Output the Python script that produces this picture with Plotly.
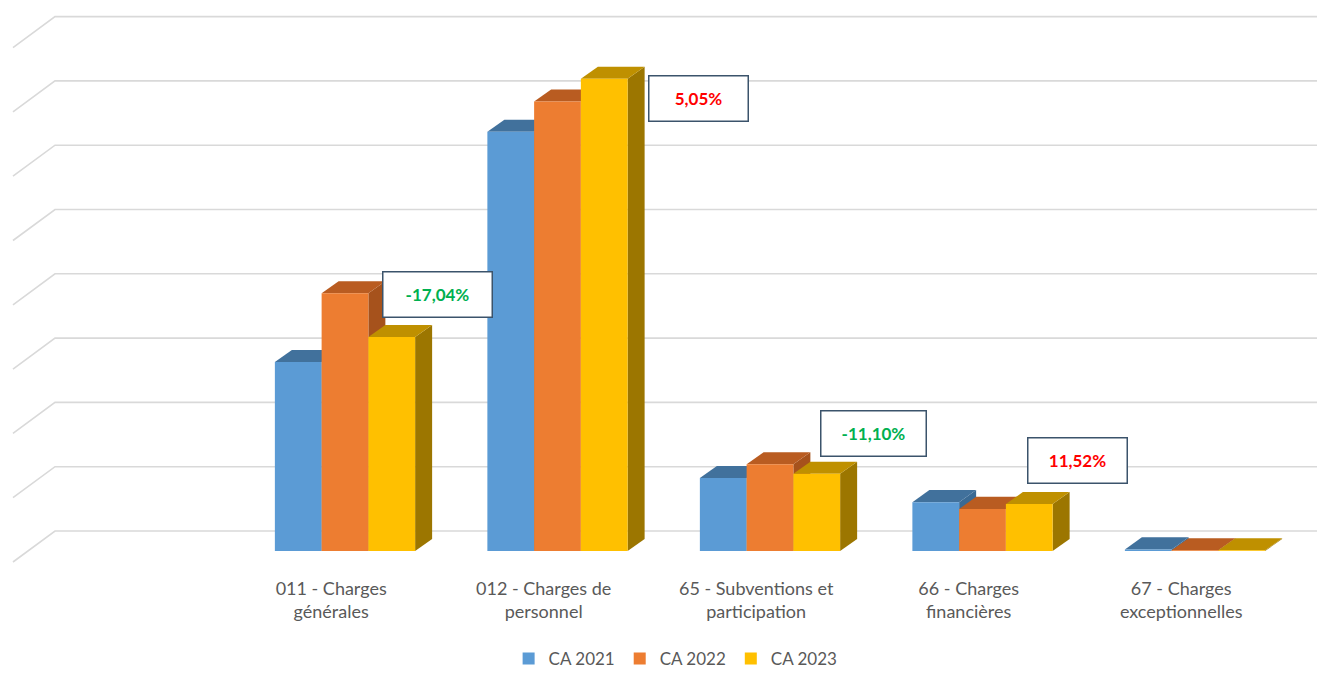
import plotly.graph_objects as go

# ---------------- data ----------------
categories = [
    "011 - Charges<br>générales",
    "012 - Charges de<br>personnel",
    "65 - Subventions et<br>participation",
    "66 - Charges<br>financières",
    "67 - Charges<br>exceptionnelles",
]
series_names = ["CA 2021", "CA 2022", "CA 2023"]
ca_2021 = [2.94, 6.52, 1.135, 0.76, 0.025]
ca_2022 = [4.01, 6.99, 1.35, 0.655, 0.012]
ca_2023 = [3.327, 7.343, 1.20, 0.73, 0.010]
variation_labels = ["-17,04%", "5,05%", "-11,10%", "11,52%"]
variation_colors = ["#00B050", "#FF0000", "#00B050", "#FF0000"]
gridline_values = [0, 1, 2, 3, 4, 5, 6, 7, 8]

# ---------------- styles ----------------
front_colors = ["#5B9BD5", "#ED7D31", "#FFC000"]
top_colors = ["#41719C", "#B95C21", "#BF9000"]
side_colors = ["#3A6A94", "#A6521C", "#9C7600"]
FONT = "Lato, Carlito, Calibri, sans-serif"
TXT = "#595959"

BAR_W = 0.22          # width of one bar (category units)
DEPTH_X = 0.08        # oblique depth offsets of a bar
DEPTH_Y = 0.187
WALL_Y = 0.311        # back-wall offset relative to bar front base
WALL_X0, WALL_X1 = -1.5624, -1.3647
FLOOR_DY = 0.482
X_RANGE = [-1.6235, 4.5741]
Y_RANGE = [-0.3266, 8.5692]

series_values = [ca_2021, ca_2022, ca_2023]
n_cat = len(categories)
x_idx = list(range(n_cat))

shapes = []
# back wall gridlines with diagonal floor/side edge
for k in gridline_values:
    yb = k + WALL_Y
    shapes.append(dict(type="path", xref="x", yref="y", layer="below",
                       path=f"M {WALL_X0} {yb - FLOOR_DY} L {WALL_X1} {yb} L {X_RANGE[1]} {yb}",
                       line=dict(color="#D9D9D9", width=1.6)))

# 3-D faces (sides and tops) for each bar
for i in x_idx:
    for s, vals in enumerate(series_values):
        v = vals[i]
        x0 = i - 1.5 * BAR_W + s * BAR_W
        x1 = x0 + BAR_W
        side = (f"M {x1} 0 L {x1 + DEPTH_X} {DEPTH_Y} L {x1 + DEPTH_X} {v + DEPTH_Y} "
                f"L {x1} {v} Z")
        top = (f"M {x0} {v} L {x1} {v} L {x1 + DEPTH_X} {v + DEPTH_Y} "
               f"L {x0 + DEPTH_X} {v + DEPTH_Y} Z")
        shapes.append(dict(type="path", xref="x", yref="y", layer="below", path=side,
                           fillcolor=side_colors[s], line=dict(width=0)))
        shapes.append(dict(type="path", xref="x", yref="y", layer="below", path=top,
                           fillcolor=top_colors[s], line=dict(width=0)))

fig = go.Figure()
for s, vals in enumerate(series_values):
    fig.add_trace(go.Bar(
        x=x_idx, y=vals, name=series_names[s],
        width=BAR_W, offset=-1.5 * BAR_W + s * BAR_W,
        marker=dict(color=front_colors[s], line=dict(width=0)),
        hoverinfo="skip",
    ))

# variation callouts
box_pos_x = [0.4376, 1.6635, 2.489, 3.447]
box_pos_y = [3.989, 7.045, 1.835, 1.40]
box_w = [104, 94, 100, 94]
annotations = []
for j, lab in enumerate(variation_labels):
    annotations.append(dict(
        x=box_pos_x[j], y=box_pos_y[j], xref="x", yref="y",
        text=f"<b>{lab}</b>", showarrow=False,
        font=dict(family=FONT, size=17, color=variation_colors[j]),
        bgcolor="white", bordercolor="#3B536B", borderwidth=1.5,
        width=box_w[j], height=40, borderpad=2, align="center",
    ))

fig.update_layout(
    width=1317, height=673,
    margin=dict(l=0, r=0, t=0, b=101, autoexpand=False),
    paper_bgcolor="white", plot_bgcolor="white",
    barmode="overlay",
    shapes=shapes, annotations=annotations,
    showlegend=True,
    legend=dict(orientation="h", x=0.513, xanchor="center", xref="container",
                y=0.021, yanchor="middle", yref="container",
                font=dict(family=FONT, size=17, color=TXT), traceorder="normal",
                bgcolor="rgba(0,0,0,0)"),
    xaxis=dict(range=X_RANGE, showgrid=False, zeroline=False, showline=False, ticks="",
               tickmode="array", tickvals=[i - 0.065 for i in x_idx], ticktext=categories,
               tickfont=dict(family=FONT, size=18, color=TXT), fixedrange=True,
               automargin=False, ticklabelstandoff=4),
    yaxis=dict(range=Y_RANGE, visible=False, showgrid=False, zeroline=False, fixedrange=True),
    font=dict(family=FONT),
)

fig.write_html("out.html",
               config={"displayModeBar": False, "staticPlot": True},
               post_script="document.body.style.margin='0';document.body.style.padding='0';")
